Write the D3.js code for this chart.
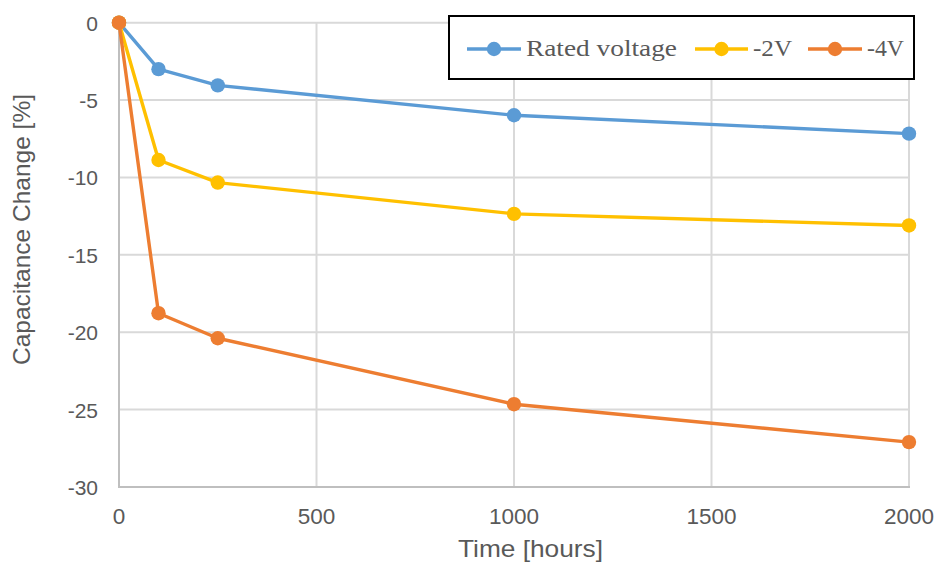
<!DOCTYPE html>
<html><head><meta charset="utf-8">
<script src="https://cdn.jsdelivr.net/npm/d3@7"></script>
<style>body{margin:0;background:#fff}svg{display:block}</style>
</head><body>
<svg id="c" width="938" height="564"></svg>
<script>
const times = [0, 100, 250, 1000, 2000];
const seriesNames = ["Rated voltage", "-2V", "-4V"];
const ratedVoltage = [0, -3.0, -4.05, -5.98, -7.17];
const minus2V = [0, -8.87, -10.33, -12.35, -13.1];
const minus4V = [0, -18.77, -20.39, -24.65, -27.1];
const xTicks = [0, 500, 1000, 1500, 2000];
const yTicks = [0, -5, -10, -15, -20, -25, -30];
const colors = ["#5B9BD5", "#FFC000", "#ED7D31"];

const svg = d3.select("#c");
const x = d3.scaleLinear().domain([0, 2000]).range([119, 909]);
const y = d3.scaleLinear().domain([-30, 0]).range([487, 22.7]);

// gridlines
svg.append("g").selectAll("line").data(yTicks.filter(d => d !== -30)).join("line")
  .attr("x1", 119).attr("x2", 909).attr("y1", d => y(d)).attr("y2", d => y(d))
  .attr("stroke", "#d9d9d9").attr("stroke-width", 2);
svg.append("g").selectAll("line").data(xTicks.filter(d => d !== 0)).join("line")
  .attr("x1", d => x(d)).attr("x2", d => x(d)).attr("y1", 22.7).attr("y2", 487)
  .attr("stroke", "#d9d9d9").attr("stroke-width", 2);

// axes lines
svg.append("line").attr("x1", 119).attr("x2", 119).attr("y1", 22.7).attr("y2", 487)
  .attr("stroke", "#bfbfbf").attr("stroke-width", 2);
svg.append("line").attr("x1", 118).attr("x2", 910).attr("y1", 487).attr("y2", 487)
  .attr("stroke", "#bfbfbf").attr("stroke-width", 2);

// tick labels
svg.append("g").selectAll("text").data(yTicks).join("text")
  .attr("x", 98).attr("y", d => y(d) + 8).attr("text-anchor", "end")
  .attr("font-family", "Liberation Sans, Arial, sans-serif").attr("font-size", 21)
  .attr("fill", "#595959").text(d => d);
svg.append("g").selectAll("text").data(xTicks).join("text")
  .attr("x", d => x(d)).attr("y", 524).attr("text-anchor", "middle")
  .attr("font-family", "Liberation Sans, Arial, sans-serif").attr("font-size", 22.5)
  .attr("fill", "#595959").text(d => d);

// axis titles
svg.append("text").attr("transform", "translate(30,229.5) rotate(-90)")
  .attr("text-anchor", "middle").attr("font-family", "Liberation Sans, Arial, sans-serif")
  .attr("font-size", 24).attr("fill", "#595959")
  .attr("textLength", 271).attr("lengthAdjust", "spacingAndGlyphs")
  .text("Capacitance Change [%]");
svg.append("text").attr("x", 530.5).attr("y", 557)
  .attr("text-anchor", "middle").attr("font-family", "Liberation Sans, Arial, sans-serif")
  .attr("font-size", 24).attr("fill", "#595959")
  .attr("textLength", 145).attr("lengthAdjust", "spacingAndGlyphs")
  .text("Time [hours]");

// series
const allSeries = [ratedVoltage, minus2V, minus4V];
const line = d3.line().x((d, i) => x(times[i])).y(d => y(d));
allSeries.forEach((vals, k) => {
  const g = svg.append("g");
  g.append("path").attr("d", line(vals)).attr("fill", "none")
    .attr("stroke", colors[k]).attr("stroke-width", 3.4).attr("stroke-linejoin", "round");
  g.selectAll("circle").data(vals).join("circle")
    .attr("cx", (d, i) => x(times[i])).attr("cy", d => y(d)).attr("r", 7.2)
    .attr("fill", colors[k]);
});

// legend
const lg = svg.append("g");
lg.append("rect").attr("x", 449).attr("y", 16).attr("width", 465).attr("height", 63)
  .attr("fill", "#fff").attr("stroke", "#000").attr("stroke-width", 2);
const legItems = [
  {lx1: 467, lx2: 521, tx: 526, tl: 151},
  {lx1: 695, lx2: 748, tx: 753, tl: 39},
  {lx1: 808, lx2: 862, tx: 867, tl: 37}
];
legItems.forEach((it, k) => {
  lg.append("line").attr("x1", it.lx1).attr("x2", it.lx2).attr("y1", 49).attr("y2", 49)
    .attr("stroke", colors[k]).attr("stroke-width", 3.4);
  lg.append("circle").attr("cx", (it.lx1 + it.lx2) / 2).attr("cy", 49).attr("r", 7.2).attr("fill", colors[k]);
  lg.append("text").attr("x", it.tx).attr("y", 56)
    .attr("font-family", "Liberation Serif, Times New Roman, serif").attr("font-size", 23)
    .attr("fill", "#595959").attr("textLength", it.tl).attr("lengthAdjust", "spacingAndGlyphs")
    .text(seriesNames[k]);
});
</script>
</body></html>
